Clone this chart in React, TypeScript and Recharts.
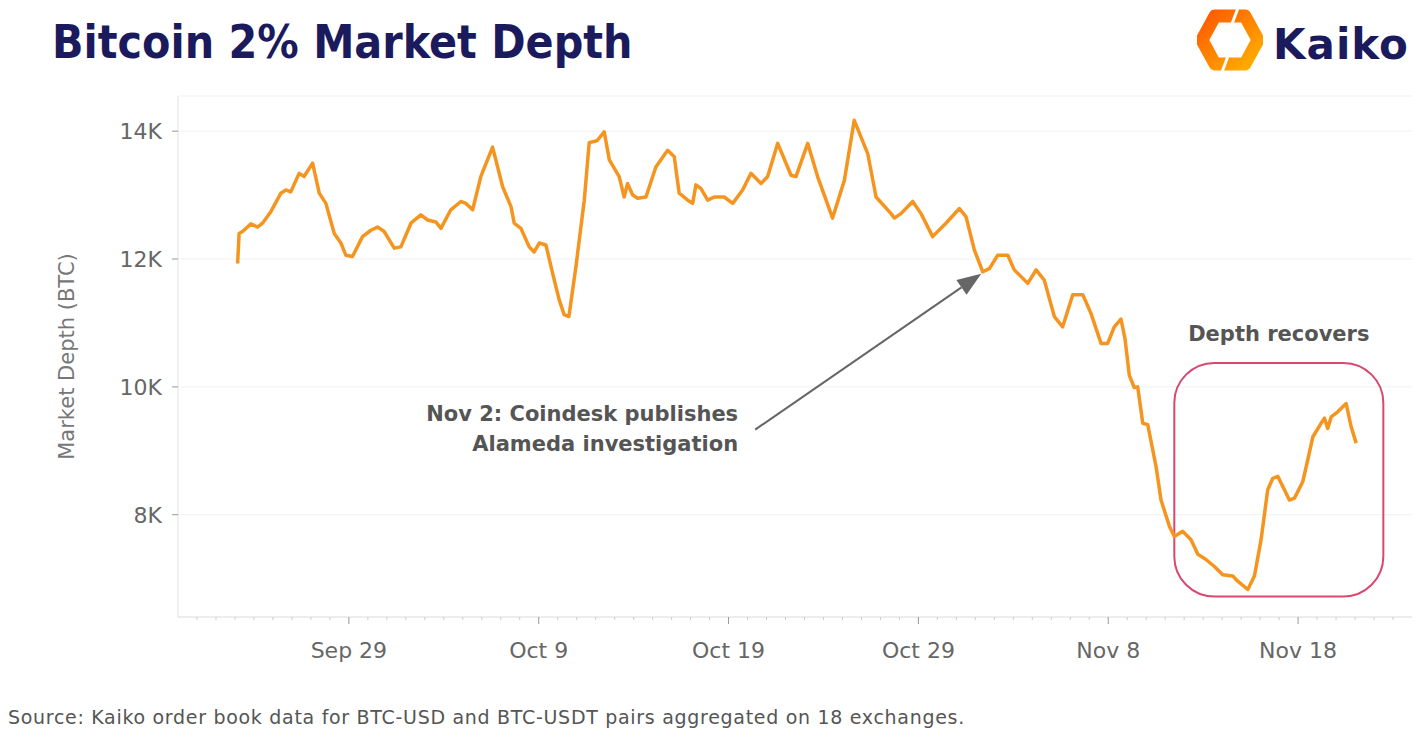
import React from 'react';
import { LineChart, Line, XAxis, YAxis, CartesianGrid, ReferenceArea, ReferenceLine } from 'recharts';

// days counted from Sep 29 (0 = Sep 29), values in BTC
const days = [
  -5.86, -5.78, -5.6, -5.16, -4.81, -4.55, -4.11, -3.58, -3.32, -3.06, -2.62, -2.36, -1.91, -1.56, -1.21,
  -0.77, -0.42, -0.16, 0.19, 0.72, 1.16, 1.51, 1.86, 2.39, 2.74, 3.27, 3.79, 4.15, 4.58, 4.85, 5.37, 5.9,
  6.16, 6.52, 6.95, 7.57, 8.1, 8.54, 8.71, 9.06, 9.5, 9.76, 10.03, 10.38, 10.73, 11.08, 11.34, 11.59, 11.96,
  12.4, 12.66, 13.07, 13.45, 13.72, 14.24, 14.5, 14.68, 14.95, 15.21, 15.65, 16.17, 16.79, 17.14, 17.4,
  17.85, 18.11, 18.28, 18.55, 18.9, 19.25, 19.77, 20.22, 20.74, 21.18, 21.71, 22.06, 22.59, 23.29, 23.55,
  24.17, 24.69, 25.48, 26.1, 26.62, 27.33, 27.77, 28.56, 28.73, 29.08, 29.7, 30.14, 30.75, 31.45, 32.16,
  32.51, 32.95, 33.39, 33.74, 34.18, 34.71, 35.05, 35.76, 36.2, 36.63, 37.16, 37.6, 38.13, 38.66, 39.09,
  39.62, 39.97, 40.32, 40.67, 40.88, 41.11, 41.37, 41.55, 41.82, 42.08, 42.52, 42.78, 43.22, 43.48, 43.92,
  44.36, 44.72, 45.15, 45.59, 46.03, 46.56, 46.82, 47.35, 47.7, 48.05, 48.4, 48.67, 48.93, 49.28, 49.54,
  49.81, 50.25, 50.51, 50.78, 51.21, 51.39, 51.56, 51.74, 52.09, 52.53, 52.79, 53.06,
];
const depth = [
  11930, 12400, 12430, 12550, 12500, 12560, 12740, 13030, 13080, 13050, 13340, 13290, 13500, 13030, 12870,
  12400, 12250, 12060, 12040, 12350, 12450, 12500, 12430, 12170, 12190, 12560, 12690, 12610, 12580, 12480, 12770, 12900,
  12870, 12770, 13290, 13750, 13130, 12820, 12560, 12480, 12190, 12110, 12250, 12220, 11780, 11360, 11130, 11100, 11880,
  12920, 13820, 13850, 13990, 13550, 13290, 12970, 13180, 13000, 12950, 12970, 13440, 13700, 13600, 13030,
  12920, 12870, 13160, 13100, 12920, 12970, 12970, 12870, 13080, 13340, 13180, 13290, 13810, 13310, 13290,
  13810, 13290, 12640, 13230, 14170, 13650, 12970, 12710, 12640, 12710, 12900, 12710, 12350, 12560, 12790,
  12660, 12140, 11800, 11850, 12060, 12060, 11830, 11620, 11830, 11670, 11100, 10940, 11440, 11440, 11150,
  10680, 10680, 10940, 11060, 10760, 10180, 9990, 10000, 9430, 9410, 8750, 8230, 7820, 7660, 7740,
  7610, 7380, 7300, 7190, 7060, 7040, 6960, 6830, 7040, 7610, 8390, 8570, 8600, 8390, 8230,
  8260, 8520, 8860, 9220, 9430, 9510, 9350, 9530, 9610, 9740, 9380, 9120,
];

const tickDays = [0, 10, 20, 30, 40, 50];
const tickLabels = ['Sep 29', 'Oct 9', 'Oct 19', 'Oct 29', 'Nov 8', 'Nov 18'];
const yTicks = [8000, 10000, 12000, 14000];

// box around the recovery, arrow for the Coindesk note
const recoverBox = { x1: 43.48, x2: 54.49, y1: 6720, y2: 10375 };
const noteArrow = { fromDay: 21.4, fromDepth: 9330, toDay: 33.31, toDepth: 11770 };

const dayTicks: number[] = [];
for (let d = -8; d <= 55; d++) dayTicks.push(d);

const data = days.map((day, i) => ({ day, depth: depth[i] }));

const FONT = '"DejaVu Sans", sans-serif';
const GRAY = '#666';
const NAVY = '#1b1a5c';
const ORANGE = '#f5941e';

const DayTick = (props: any) => {
  const { x, y, payload } = props;
  const idx = tickDays.indexOf(payload.value);
  const major = idx >= 0;
  return (
    <g>
      <line x1={x} x2={x} y1={y} y2={y + (major ? 7 : 3)} stroke={major ? '#999' : '#ccc'} />
      {major && (
        <text x={x} y={y + 41} textAnchor="middle" fill={GRAY} fontSize={22} fontFamily={FONT}>
          {tickLabels[idx]}
        </text>
      )}
    </g>
  );
};

const ArrowShape = (p: any) => {
  const { x1, y1, x2, y2 } = p;
  const ang = Math.atan2(y2 - y1, x2 - x1);
  const len = 24;
  const half = 9;
  const bx = x2 - len * Math.cos(ang);
  const by = y2 - len * Math.sin(ang);
  const px = -Math.sin(ang) * half;
  const py = Math.cos(ang) * half;
  return (
    <g>
      <line x1={x1} y1={y1} x2={bx} y2={by} stroke="#666" strokeWidth={2} />
      <polygon points={`${x2},${y2} ${bx + px},${by + py} ${bx - px},${by - py}`} fill="#666" />
      <text x={x1 - 17} y={y1 - 9} textAnchor="end" fill="#555" fontSize={21} fontWeight="bold" fontFamily={FONT}>
        Nov 2: Coindesk publishes
      </text>
      <text x={x1 - 17} y={y1 + 21} textAnchor="end" fill="#555" fontSize={21} fontWeight="bold" fontFamily={FONT}>
        Alameda investigation
      </text>
    </g>
  );
};

const BoxShape = (p: any) => (
  <rect x={p.x} y={p.y} width={p.width} height={p.height} rx={40} ry={40} fill="none" stroke="#d9486f" strokeWidth={2} />
);

const KaikoIcon = () => (
  <svg width={66} height={64} viewBox="0 0 66 64" style={{ position: 'absolute', left: 1197, top: 8 }}>
    <defs>
      <linearGradient id="kg" x1="0" y1="0" x2="1" y2="1">
        <stop offset="0" stopColor="#ff5a00" />
        <stop offset="1" stopColor="#ffb000" />
      </linearGradient>
    </defs>
    <path d="M18 8 L48 8 L61 32 L48 56 L18 56 L5 32 Z" fill="none" stroke="url(#kg)" strokeWidth={13} strokeLinejoin="round" />
    <line x1={41} y1={0} x2={35} y2={16} stroke="#fff" strokeWidth={3} />
    <line x1={25} y1={64} x2={31} y2={48} stroke="#fff" strokeWidth={3} />
  </svg>
);

export default function App() {
  return (
    <div style={{ position: 'absolute', left: 0, top: 0, width: 1420, height: 746, background: '#fff', fontFamily: FONT }}>
      <div style={{ position: 'absolute', left: 52, top: 19, fontSize: 46, lineHeight: '46px', fontWeight: 'bold', fontStretch: 'condensed', color: NAVY, whiteSpace: 'nowrap' }}>
        Bitcoin 2% Market Depth
      </div>
      <KaikoIcon />
      <div style={{ position: 'absolute', left: 1273, top: 24, fontSize: 42, lineHeight: '42px', fontWeight: 'bold', letterSpacing: 1, color: NAVY }}>
        Kaiko
      </div>
      <div style={{ position: 'absolute', left: 0, top: 0 }}>
        <LineChart width={1420} height={700} data={data} margin={{ top: 96, right: 8, bottom: 33, left: 78 }}>
          <CartesianGrid horizontal vertical={false} stroke="#f1f1f1" />
          <XAxis
            dataKey="day"
            type="number"
            domain={[-9, 56]}
            ticks={dayTicks}
            interval={0}
            tick={<DayTick />}
            tickLine={false}
            tickSize={0}
            tickMargin={0}
            height={50}
            axisLine={{ stroke: '#e2e2e2' }}
            allowDataOverflow
          />
          <YAxis
            type="number"
            domain={[6400, 14550]}
            ticks={yTicks}
            width={100}
            tickFormatter={(v: number) => `${v / 1000}K`}
            tick={{ fill: GRAY, fontSize: 22, fontFamily: FONT }}
            tickSize={6}
            tickMargin={10}
            tickLine={{ stroke: '#999' }}
            axisLine={{ stroke: '#e2e2e2' }}
            allowDataOverflow
            label={{ value: 'Market Depth (BTC)', angle: -90, position: 'insideLeft', offset: -11, fill: '#777', fontSize: 21, fontFamily: FONT, style: { textAnchor: 'middle' } }}
          />
          <YAxis yAxisId="edge" orientation="right" width={0} tick={false} tickLine={false} axisLine={{ stroke: '#ececec' }} />
          <Line type="linear" dataKey="depth" stroke={ORANGE} strokeWidth={3.5} strokeLinejoin="round" dot={false} isAnimationActive={false} />
          <ReferenceLine
            segment={[
              { x: noteArrow.fromDay, y: noteArrow.fromDepth },
              { x: noteArrow.toDay, y: noteArrow.toDepth },
            ]}
            shape={ArrowShape}
          />
          <ReferenceArea
            x1={recoverBox.x1}
            x2={recoverBox.x2}
            y1={recoverBox.y1}
            y2={recoverBox.y2}
            shape={BoxShape}
            label={{ value: 'Depth recovers', position: 'top', offset: 22, fill: '#555', fontSize: 21, fontWeight: 'bold', fontFamily: FONT }}
          />
        </LineChart>
      </div>
      <div style={{ position: 'absolute', left: 8, top: 708, fontSize: 19, lineHeight: '19px', letterSpacing: 0.7, color: '#555', whiteSpace: 'nowrap' }}>
        Source: Kaiko order book data for BTC-USD and BTC-USDT pairs aggregated on 18 exchanges.
      </div>
    </div>
  );
}
